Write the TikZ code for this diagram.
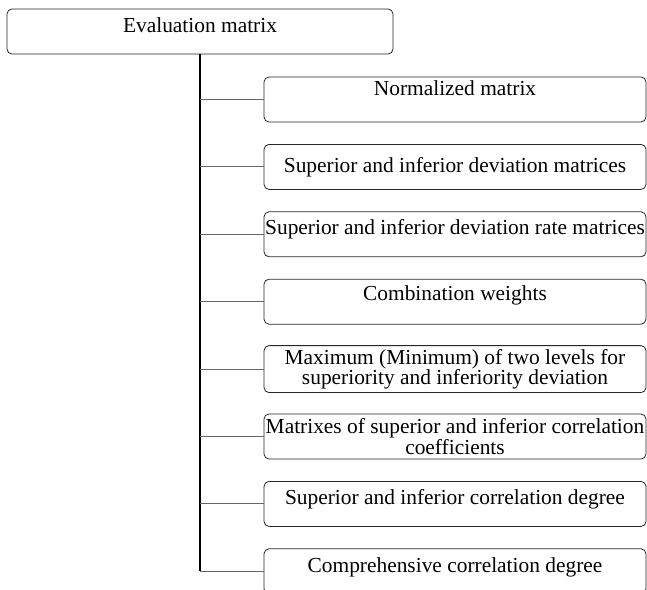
\documentclass[tikz,border=0pt]{standalone}
\usepackage{fontspec}
\setmainfont{Liberation Serif}
\newcommand{\liftby}[2]{\raisebox{#1}[\height][\depth]{#2}}
\begin{document}
\begin{tikzpicture}[x=1pt,y=-1pt,
        box/.style={draw=black!85,line width=0.8pt,rounded corners=5pt,minimum width=382pt,minimum height=45pt,inner xsep=0pt,align=center,font=\fontsize{21.4}{17.8}\selectfont},
        trunk/.style={line width=1.6pt},
        branch/.style={draw=black!60,line width=1pt}]
        \useasboundingbox (0,0) rectangle (647,589);
        \clip (0,0) rectangle (647,589);
        \node[box,minimum width=386pt] (eval) at (200,31.5) {\liftby{6pt}{Evaluation matrix}};
        \node[box] (norm) at (455,99.5) {\liftby{11pt}{Normalized matrix}};
        \node[box] (dev) at (455,166.9) {Superior and inferior deviation matrices};
        \node[box] (rate) at (455,234.3) {\liftby{5pt}{Superior and inferior deviation rate matrices}};
        \node[box] (weight) at (455,301.7) {\liftby{6pt}{Combination weights}};
        \node[box] (maxmin) at (455,369.1) {Maximum (Minimum) of two levels for\\superiority and inferiority deviation};
        \node[box] (coef) at (455,436.5) {Matrixes of superior and inferior correlation\\coefficients};
        \node[box] (degree) at (455,503.9) {\liftby{5pt}{Superior and inferior correlation degree}};
        \node[box] (comp) at (455,571.3) {\liftby{4pt}{Comprehensive correlation degree}};
        \draw[trunk] (eval.south) -- (eval.south |- comp.west);
        \foreach \b in {norm,dev,rate,weight,maxmin,coef,degree,comp}
            \draw[branch] (eval.south |- \b.west) -- (\b.west);
\end{tikzpicture}
\end{document}
